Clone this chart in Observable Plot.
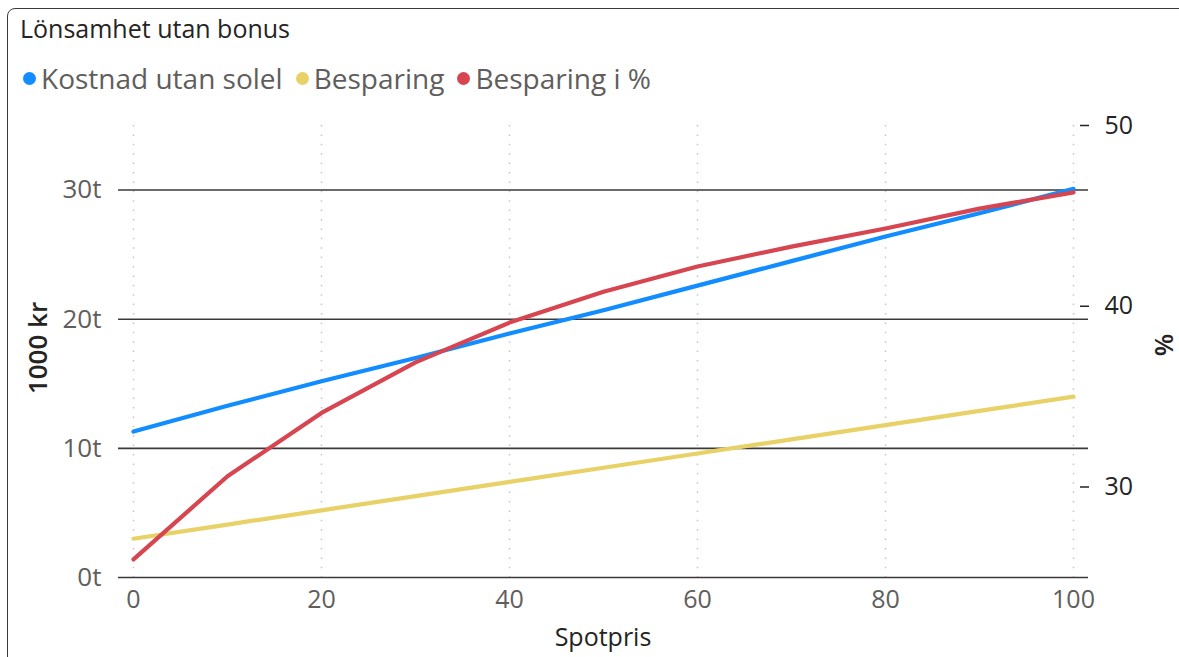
<!DOCTYPE html>
<html lang="sv">
<head>
<meta charset="utf-8">
<title>Lönsamhet utan bonus</title>
<script src="https://cdn.jsdelivr.net/npm/d3@7"></script>
<script src="https://cdn.jsdelivr.net/npm/@observablehq/plot@0.6"></script>
<style>
  html, body { margin: 0; padding: 0; background: #fff; }
  body { width: 1179px; height: 657px; position: relative; overflow: hidden; }
  #frame {
    position: absolute; left: 7px; top: 8px; width: 1190px; height: 670px;
    border: 1.5px solid #3b3a39; border-radius: 8px; box-sizing: border-box;
  }
  #title {
    position: absolute; left: 20px; top: 11px;
    font: 25px "Open Sans", sans-serif; color: #252423; white-space: nowrap;
  }
  #legend {
    position: absolute; left: 23px; top: 59px; display: flex; align-items: center;
    font: 28px "Open Sans", sans-serif; color: #605e5c; white-space: nowrap;
  }
  #legend .item { display: flex; align-items: center; margin-right: 13px; }
  #legend .dot { width: 13px; height: 13px; border-radius: 50%; margin-right: 5px; }
  .axis-title { position: absolute; font: 500 25px "Open Sans", sans-serif; line-height: 1; color: #252423; white-space: nowrap; }
  #yTitle, #y2Title { font-weight: 600; font-size: 26px; }
  #chart svg { position: absolute; left: 0; top: 0; }
</style>
</head>
<body>
<div id="frame"></div>
<div id="title">Lönsamhet utan bonus</div>
<div id="legend"></div>
<div id="chart"></div>
<div class="axis-title" id="xTitle">Spotpris</div>
<div class="axis-title" id="yTitle">1000 kr</div>
<div class="axis-title" id="y2Title">%</div>
<script>
// Spotpris steps along the x axis
const spotpris = [0, 10, 20, 30, 40, 50, 60, 70, 80, 90, 100];
// Kostnad utan solel, in thousands of kronor (left axis)
const kostnadUtanSolel = [11.3, 13.3, 15.2, 17.0, 18.9, 20.7, 22.6, 24.5, 26.4, 28.2, 30.1];
// Besparing, in thousands of kronor (left axis)
const besparing = [3.0, 4.1, 5.2, 6.3, 7.4, 8.5, 9.6, 10.7, 11.8, 12.9, 14.0];
// Besparing i %, percent (right axis)
const besparingProcent = [26.0, 30.6, 34.1, 36.9, 39.1, 40.8, 42.2, 43.3, 44.3, 45.4, 46.3];

const seriesNames = ["Kostnad utan solel", "Besparing", "Besparing i %"];
const seriesColors = ["#118DFF", "#E8D166", "#D64550"];

const xTicks = [0, 20, 40, 60, 80, 100];
const leftTicks = [0, 10, 20, 30];
const rightTicks = [30, 40, 50];
const leftDomain = [0, 35];
const rightDomain = [25, 50];

const rows = spotpris.map((s, i) => ({
  spotpris: s,
  kostnad: kostnadUtanSolel[i],
  besparing: besparing[i],
  procent: besparingProcent[i]
}));

// Legend
const legend = document.getElementById("legend");
seriesNames.forEach((name, i) => {
  const item = document.createElement("div");
  item.className = "item";
  const dot = document.createElement("span");
  dot.className = "dot";
  dot.style.background = seriesColors[i];
  const label = document.createElement("span");
  label.textContent = name;
  item.append(dot, label);
  legend.append(item);
});

const W = 1179, H = 657;
const frame = {width: W, height: H, marginLeft: 133, marginRight: 106, marginTop: 125, marginBottom: 80};
const svgStyle = {background: "transparent", overflow: "visible", fontFamily: "'Open Sans', sans-serif"};

// Left-axis chart: grid, kronor series
const left = Plot.plot({
  ...frame,
  style: svgStyle,
  x: {domain: [0, 100]},
  y: {domain: leftDomain},
  marks: [
    Plot.gridX(xTicks, {stroke: "#c8c6c4", strokeOpacity: 1, strokeWidth: 1.5, strokeDasharray: "1.5,7.9"}),
    Plot.ruleY(leftTicks, {stroke: "#3b3a39", strokeWidth: 1.6, insetLeft: -15, insetRight: -15}),
    Plot.axisY(leftTicks, {tickSize: 0, tickPadding: 32, tickFormat: d => d + "t", fontSize: 26, fill: "#605e5c", label: null}),
    Plot.axisX(xTicks, {tickSize: 0, tickPadding: 13, fontSize: 25, fill: "#605e5c", label: null}),
    Plot.lineY(rows, {x: "spotpris", y: "kostnad", stroke: seriesColors[0], strokeWidth: 4.2, strokeLinecap: "round", strokeLinejoin: "round"}),
    Plot.lineY(rows, {x: "spotpris", y: "besparing", stroke: seriesColors[1], strokeWidth: 4.2, strokeLinecap: "round", strokeLinejoin: "round"})
  ]
});

// Right-axis chart: percentage series
const right = Plot.plot({
  ...frame,
  style: svgStyle,
  x: {domain: [0, 100], axis: null},
  y: {domain: rightDomain},
  marks: [
    Plot.axisY(rightTicks, {anchor: "right", tickSize: 15, tickPadding: 16, strokeDasharray: "0,6,9", stroke: "#252423", strokeWidth: 1.5, fontSize: 25, fill: "#252423", label: null}),
    Plot.lineY(rows, {x: "spotpris", y: "procent", stroke: seriesColors[2], strokeWidth: 4.2, strokeLinecap: "round", strokeLinejoin: "round"})
  ]
});

const chart = document.getElementById("chart");
chart.append(left, right);

// Axis titles
const xTitle = document.getElementById("xTitle");
xTitle.style.left = "603px"; xTitle.style.top = "624px"; xTitle.style.transform = "translateX(-50%)";
const yTitle = document.getElementById("yTitle");
yTitle.style.left = "37px"; yTitle.style.top = "348px"; yTitle.style.transform = "translate(-50%, -50%) rotate(-90deg)";
const y2Title = document.getElementById("y2Title");
y2Title.style.left = "1163px"; y2Title.style.top = "345px"; y2Title.style.transform = "translate(-50%, -50%) rotate(-90deg)";
</script>
</body>
</html>
